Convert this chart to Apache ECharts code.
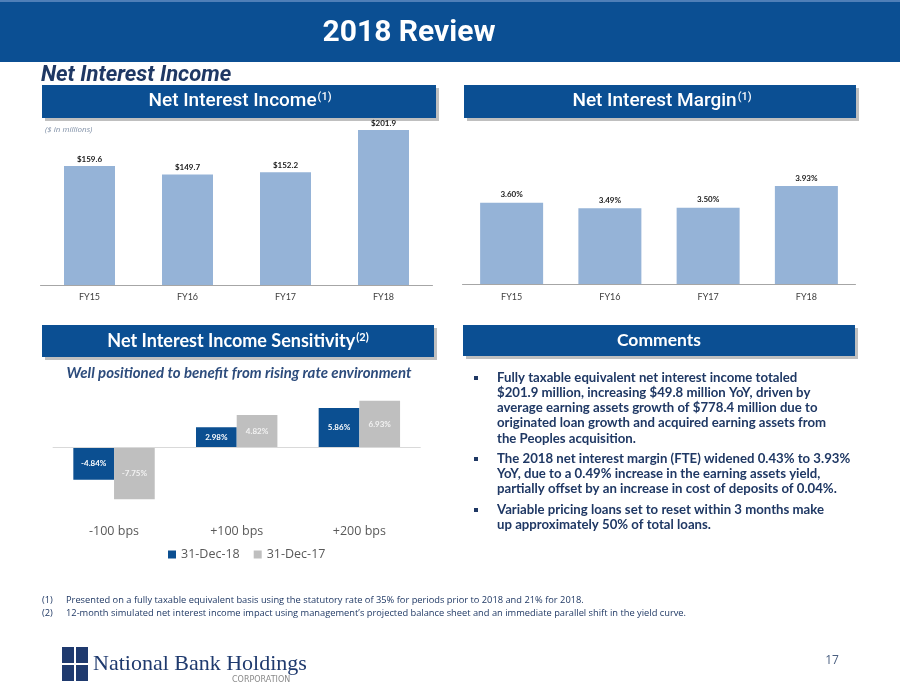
<!DOCTYPE html>
<html><head><meta charset="utf-8">
<script src="https://cdn.jsdelivr.net/npm/echarts@6/dist/echarts.min.js"></script>
<style>html,body{margin:0;padding:0;background:#fff}#c{width:900px;height:695px}</style>
</head><body><div id="c"></div>
<script>
const years = ['FY15','FY16','FY17','FY18'];
const niiValues = [159.6, 149.7, 152.2, 201.9];
const nimValues = [3.60, 3.49, 3.50, 3.93];
const shockCats = ['-100 bps','+100 bps','+200 bps'];
const sens2018 = [-4.84, 2.98, 5.86];
const sens2017 = [-7.75, 4.82, 6.93];
const seriesNames = ['31-Dec-18','31-Dec-17'];

const NAVY = '#0b4f93';
const TXT = '#1f3864';
const chart = echarts.init(document.getElementById('c'), null, {renderer:'canvas'});

function header(x, y, w, h, main, sup, fam, weight, size, supSize, cx) {
  const rich = {
    a:{fill:'#fff', fontFamily:fam, fontWeight:weight, fontSize:size},
    s:{fill:'#fff', fontFamily:fam, fontWeight:weight, fontSize:supSize, verticalAlign:'top', padding:[0,0,0,1]}
  };
  const text = sup ? '{a|'+main+'}{s|'+sup+'}' : '{a|'+main+'}';
  return [
    {type:'rect', shape:{x:x+3, y:y+3, width:w, height:h}, style:{fill:'rgba(0,0,0,0.25)'}, z:1},
    {type:'rect', shape:{x:x, y:y, width:w, height:h}, style:{fill:NAVY}, z:2},
    {type:'text', x:cx, y:y+h/2, style:{text:text, rich:rich, align:'center', verticalAlign:'middle'}, z:3}
  ];
}

const comments = [
  {y:378, lines:['Fully taxable equivalent net interest income totaled','$201.9 million, increasing $49.8 million YoY, driven by','average earning assets growth of $778.4 million due to','originated loan growth and acquired earning assets from','the Peoples acquisition.']},
  {y:459, lines:['The 2018 net interest margin (FTE) widened 0.43% to 3.93%','YoY, due to a 0.49% increase in the earning assets yield,','partially offset by an increase in cost of deposits of 0.04%.']},
  {y:510, lines:['Variable pricing loans set to reset within 3 months make','up approximately 50% of total loans.']}
];
const graphics = [];
graphics.push({type:'rect', shape:{x:0, y:0, width:900, height:62}, style:{fill:NAVY}});
graphics.push({type:'rect', shape:{x:0, y:0, width:900, height:2}, style:{fill:'#4f7fb8'}});
graphics.push({type:'text', x:409, y:33, style:{text:'2018 Review', fill:'#fff', font:'bold 30px Roboto', align:'center', verticalAlign:'middle'}});
graphics.push({type:'text', x:41, y:75, style:{text:'Net Interest Income', fill:TXT, font:'italic bold 22px Roboto', verticalAlign:'middle'}});
graphics.push(...header(42, 85, 394, 33, 'Net Interest Income', '(1)', 'Roboto', 500, 19, 11, 240));
graphics.push(...header(464, 85, 392, 33, 'Net Interest Margin', '(1)', 'Roboto', 500, 19, 11, 662));
graphics.push({type:'text', x:45, y:130, style:{text:'($ in millions)', fill:'#7f8fa6', font:'italic 8px "Open Sans"', verticalAlign:'middle'}});
graphics.push(...header(42, 325, 392, 32, 'Net Interest Income Sensitivity', '(2)', 'Lato', 'bold', 18, 11, 238));
graphics.push(...header(463, 325, 392, 31, 'Comments', null, 'Lato', 'bold', 17.5, 11, 659));
graphics.push({type:'text', x:239, y:373, style:{text:'Well positioned to benefit from rising rate environment', fill:'#2d4c7c', font:'italic bold 15px Lato', align:'center', verticalAlign:'middle'}});
comments.forEach(c => {
  graphics.push({type:'rect', shape:{x:474, y:c.y-2, width:4, height:4}, style:{fill:TXT}});
  graphics.push({type:'text', x:497, y:c.y-8, style:{text:c.lines.join('\n'), fill:TXT, font:'bold 13.2px Lato', lineHeight:15.2, verticalAlign:'top'}});
});
graphics.push({type:'text', x:42, y:600, style:{text:'(1)', fill:TXT, font:'9.3px "Open Sans"', verticalAlign:'middle'}});
graphics.push({type:'text', x:66, y:600, style:{text:'Presented on a fully taxable equivalent basis using the statutory rate of 35% for periods prior to 2018 and 21% for 2018.', fill:TXT, font:'9.3px "Open Sans"', verticalAlign:'middle'}});
graphics.push({type:'text', x:42, y:613, style:{text:'(2)', fill:TXT, font:'9.3px "Open Sans"', verticalAlign:'middle'}});
graphics.push({type:'text', x:66, y:613, style:{text:'12-month simulated net interest income impact using management\u2019s projected balance sheet and an immediate parallel shift in the yield curve.', fill:TXT, font:'9.3px "Open Sans"', verticalAlign:'middle'}});
graphics.push({type:'rect', shape:{x:62, y:647, width:12, height:16}, style:{fill:'#1f3a6e'}});
graphics.push({type:'rect', shape:{x:76, y:647, width:12, height:16}, style:{fill:'#1f3a6e'}});
graphics.push({type:'rect', shape:{x:62, y:665, width:12, height:16}, style:{fill:'#1f3a6e'}});
graphics.push({type:'rect', shape:{x:76, y:665, width:12, height:16}, style:{fill:'#1f3a6e'}});
graphics.push({type:'text', x:93, y:664, style:{text:'National Bank Holdings', fill:'#1f3a6e', font:'22px "Liberation Serif"', verticalAlign:'middle'}});
graphics.push({type:'text', x:232, y:680, style:{text:'CORPORATION', fill:'#8a8a8a', font:'8px "DejaVu Sans"', verticalAlign:'middle'}});
graphics.push({type:'text', x:832, y:661, style:{text:'17', fill:'#4a5f80', font:'12px "Open Sans"', align:'center', verticalAlign:'middle'}});

const barLabelStyle = {fontSize:8, fontWeight:'bold', color:'#1a1a1a', fontFamily:'Lato'};
const option = {
  animation:false,
  backgroundColor:'#fff',
  grid:[
    {left:40.5, width:392, top:123.1, height:161.9},
    {left:462.5, width:393, top:182.4, height:101.6},
    {left:52.7, width:368, top:380.3, height:134}
  ],
  xAxis:[
    {type:'category', gridIndex:0, data:years, axisTick:{show:false}, axisLine:{lineStyle:{color:'#a6a6a6'}}, axisLabel:{color:'#404040', fontSize:9, margin:8, fontFamily:'Lato'}},
    {type:'category', gridIndex:1, data:years, axisTick:{show:false}, axisLine:{lineStyle:{color:'#a6a6a6'}}, axisLabel:{color:'#404040', fontSize:9, margin:9, fontFamily:'Lato'}},
    {type:'category', gridIndex:2, data:shockCats, axisTick:{show:false}, axisLine:{show:false, onZero:false}, axisLabel:{color:'#595959', fontSize:12.5, margin:11, fontFamily:'Open Sans'}}
  ],
  yAxis:[
    {type:'value', gridIndex:0, min:20, max:210, show:false},
    {type:'value', gridIndex:1, min:2, max:4, show:false},
    {type:'value', gridIndex:2, min:-10, max:10, show:false}
  ],
  legend:{data:seriesNames, left:163, top:543, icon:'rect', itemWidth:8, itemHeight:8, itemGap:14,
    textStyle:{color:'#595959', fontSize:12.5, fontFamily:'Open Sans'}},
  series:[
    {type:'bar', xAxisIndex:0, yAxisIndex:0, data:niiValues, barWidth:51, itemStyle:{color:'#95b3d7'},
      label:{show:true, position:'top', distance:3, ...barLabelStyle, formatter:p=>'$'+p.value.toFixed(1)}},
    {type:'bar', xAxisIndex:1, yAxisIndex:1, data:nimValues, barWidth:63, itemStyle:{color:'#95b3d7'},
      label:{show:true, position:'top', distance:4, ...barLabelStyle, formatter:p=>p.value.toFixed(2)+'%'}},
    {type:'bar', name:seriesNames[0], xAxisIndex:2, yAxisIndex:2, data:sens2018, barWidth:40.7, barGap:'0%', itemStyle:{color:'#0b4f91'},
      label:{show:true, position:'inside', color:'#fff', fontSize:8, fontWeight:'bold', fontFamily:'Lato', formatter:p=>p.value.toFixed(2)+'%'},
      markLine:{silent:true, symbol:'none', label:{show:false}, lineStyle:{color:'#d9d9d9', type:'solid', width:1}, data:[{yAxis:0}]}},
    {type:'bar', name:seriesNames[1], xAxisIndex:2, yAxisIndex:2, data:sens2017, barWidth:40.7, barGap:'0%', itemStyle:{color:'#bfbfbf'},
      label:{show:true, position:'inside', color:'#f2f2f2', fontSize:8, fontWeight:'bold', fontFamily:'Lato', formatter:p=>p.value.toFixed(2)+'%'}}
  ],
  graphic:graphics
};
chart.setOption(option);
</script></body></html>
